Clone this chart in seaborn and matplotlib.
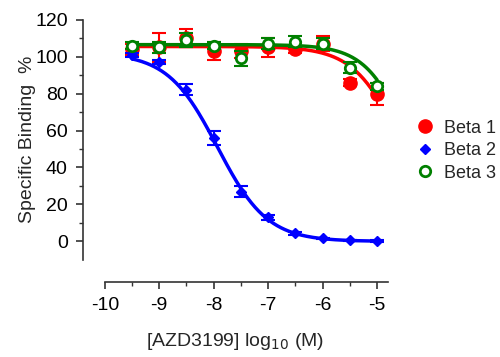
import numpy as np
import pandas as pd
import matplotlib
matplotlib.use("Agg")
import matplotlib.pyplot as plt
import seaborn as sns
from matplotlib.lines import Line2D
from matplotlib.ticker import FixedLocator

# concentrations (log10 M)
log_conc = [-9.5, -9.0, -8.5, -8.0, -7.5, -7.0, -6.5, -6.0, -5.5, -5.0]

beta1 = [104, 105, 110, 103, 103, 105, 104, 107, 86, 80]
beta1_err = [3, 8, 5, 5, 4, 5, 2, 4, 2, 6]
beta2 = [101, 97, 82, 56, 27, 13, 4.3, 1.6, 0.5, 0]
beta2_err = [1, 1, 3, 4, 3, 1.5, 1, 0.5, 0.5, 0.5]
beta3 = [106, 105, 109, 106, 99, 107, 108, 107, 94, 84]
beta3_err = [2, 3, 4, 2, 4, 3, 3, 3, 3, 2]

# fitted 4PL curve parameters (top, bottom, logIC50, hill)
fit_beta1 = (105.5, 0, -4.55, 1.0)
fit_beta2 = (102, 0, -7.93, 0.95)
fit_beta3 = (106.5, 0, -4.4, 1.1)

sns.set_style("ticks")
plt.rcParams['font.family'] = ['Liberation Sans', 'DejaVu Sans']
plt.rcParams['axes.unicode_minus'] = False

fig = plt.figure(figsize=(5.0, 3.57), dpi=100)
ax = fig.add_axes([0.166, 0.21, 0.61, 0.74])


def curve(params):
    top, bottom, c, h = params
    xs = np.linspace(-9.5, -5.0, 200)
    ys = bottom + (top - bottom) / (1 + 10 ** ((xs - c) * h))
    return pd.DataFrame({'x': xs, 'y': ys})


series = [
    ('Beta 1', beta1, beta1_err, fit_beta1, 'red'),
    ('Beta 2', beta2, beta2_err, fit_beta2, 'blue'),
    ('Beta 3', beta3, beta3_err, fit_beta3, 'green'),
]
markers = {
    'Beta 1': dict(marker='o', ms=9.5, mfc='red', mec='red'),
    'Beta 2': dict(marker='D', ms=5, mfc='blue', mec='blue'),
    'Beta 3': dict(marker='o', ms=7.5, mfc='white', mec='green', mew=2),
}

for name, vals, err, fit, col in series:
    sns.lineplot(data=curve(fit), x='x', y='y', color=col, lw=2.5, ax=ax)
    ax.errorbar(log_conc, vals, yerr=err, fmt='none', ecolor=col,
                elinewidth=1.5, capsize=5, capthick=1.5)
    ax.plot(log_conc, vals, ls='none', **markers[name])

ax.set_xlim(-10.4, -4.8)
ax.set_ylim(-22, 121)
ax.spines['left'].set_bounds(-10, 120)
ax.spines['bottom'].set_bounds(-10, -4.8)
ax.spines['right'].set_visible(False)
ax.spines['top'].set_visible(False)
for s in ['left', 'bottom']:
    ax.spines[s].set_linewidth(1.2)
    ax.spines[s].set_color('#333333')

ax.set_xticks([-10, -9, -8, -7, -6, -5])
ax.set_yticks([0, 20, 40, 60, 80, 100, 120])
ax.xaxis.set_minor_locator(FixedLocator([-9.5, -8.5, -7.5, -6.5, -5.5]))
ax.yaxis.set_minor_locator(FixedLocator([10, 30, 50, 70, 90, 110]))
ax.tick_params(which='major', length=5, width=1.2, labelsize=14,
               color='#333333', labelcolor='black', pad=6)
ax.tick_params(which='minor', length=3, width=1.0, color='#333333')

ax.set_xlabel('[AZD3199] log$_{10}$ (M)', fontsize=14, labelpad=12)
ax.set_ylabel('Specific Binding  %', fontsize=14)
ax.yaxis.set_label_coords(-0.155, 0.54)

handles = [Line2D([], [], ls='none', **markers[n]) for n, _, _, _, _ in series]
fig.legend(handles, [s[0] for s in series], loc='upper left',
           bbox_to_anchor=(0.795, 0.71), frameon=False, fontsize=13,
           handletextpad=0.5, labelspacing=0.3, handlelength=1.2)

fig.savefig('out.png', dpi=100)
